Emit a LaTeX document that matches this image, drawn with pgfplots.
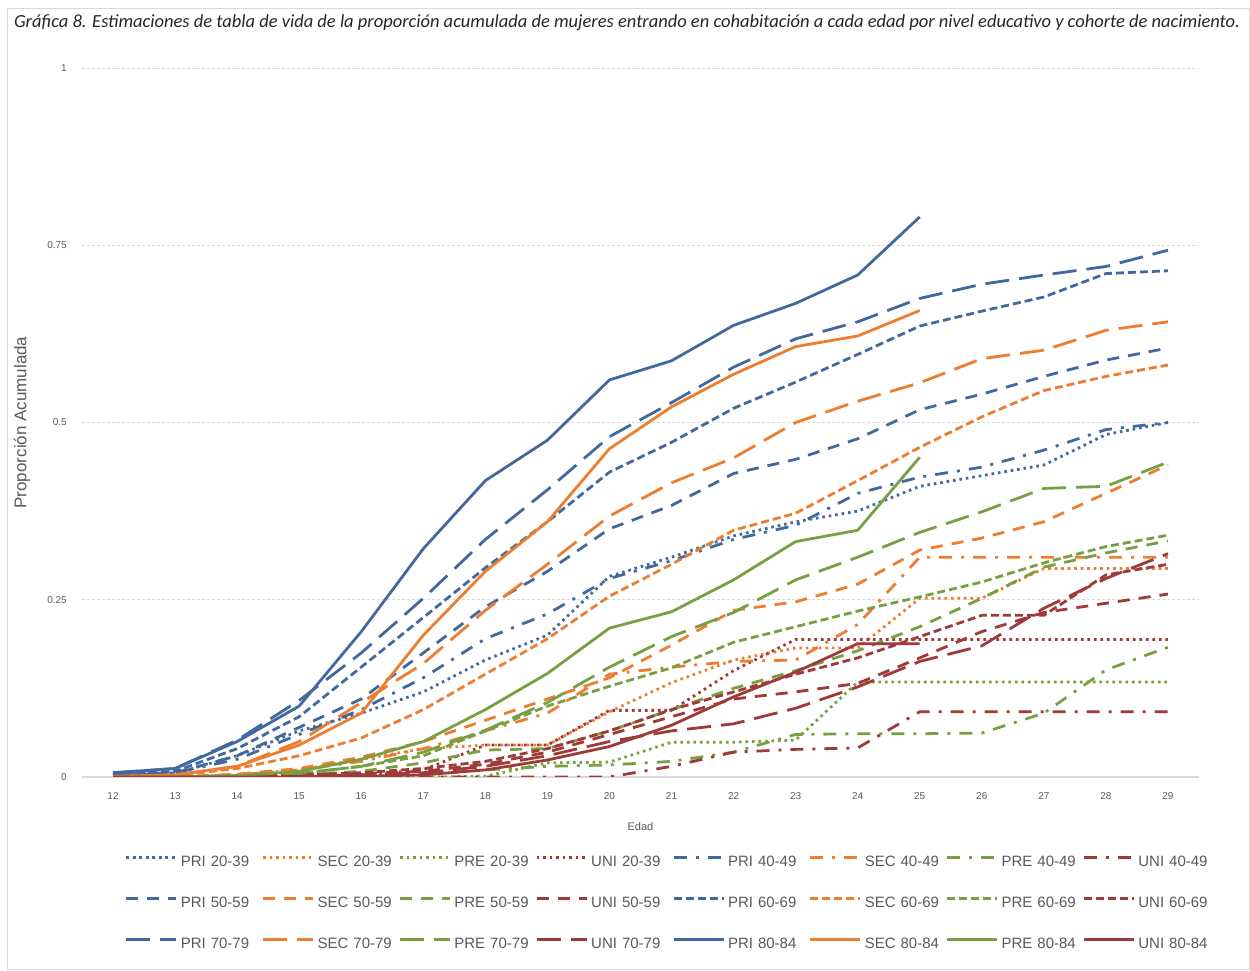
\documentclass[border=0pt]{standalone}
\usepackage{fontspec}
\setmainfont{Liberation Sans}
\newfontfamily\titlefont{Carlito}
\usepackage{pgfplots}
\pgfplotsset{compat=1.18}

\definecolor{pri}{HTML}{41699E}
\definecolor{sec}{HTML}{ED7D31}
\definecolor{pre}{HTML}{77A043}
\definecolor{uni}{HTML}{9E3A38}
\definecolor{txt}{HTML}{595959}
\definecolor{gridc}{HTML}{D9D9D9}

\tikzset{
  c2039/.style={dash pattern=on 2.6pt off 3.9pt},
  c4049/.style={dash pattern=on 13pt off 9pt on 3pt off 9pt},
  c5059/.style={dash pattern=on 12pt off 9pt},
  c6069/.style={dash pattern=on 8pt off 4pt},
  c7079/.style={dash pattern=on 24pt off 10pt},
  c8084/.style={solid},
}

\begin{document}
\begin{tikzpicture}
\path[use as bounding box] (0,0) rectangle (1250pt,971pt);
\draw[gridc, line width=0.8pt] (7pt,2pt) rectangle (1249pt,963pt);

\node[font=\titlefont\itshape\fontsize{18.5}{21}\selectfont, text=black!85, anchor=center]
  at (627pt,948pt) {Gráfica 8. Estimaciones de tabla de vida de la proporción acumulada de mujeres entrando en cohabitación a cada edad por nivel educativo y cohorte de nacimiento.};

\begin{axis}[
  at={(82pt,194pt)}, anchor=south west,
  width=1117pt, height=709pt, scale only axis,
  xmin=11.5, xmax=29.5, ymin=0, ymax=1,
  xtick={12,...,29},
  ytick={0,0.25,0.5,0.75,1},
  yticklabels={0,0.25,0.5,0.75,1},
  axis x line*=bottom, axis y line*=left,
  x axis line style={draw=gridc, line width=1.2pt, -},
  y axis line style={draw=none},
  major tick length=0pt,
  ymajorgrids=true,
  grid style={gridc, line width=0.8pt, dash pattern=on 3pt off 2pt},
  /pgf/number format/assume math mode=true,
  tick label style={font=\fontsize{10}{12}\selectfont, text=txt, inner sep=0pt},
  xticklabel shift=15pt,
  yticklabel shift=15pt,
  xlabel={Edad},
  xlabel style={font=\fontsize{11}{13}\selectfont, text=txt, at={(axis description cs:0.5,0)}, anchor=center, yshift=-50pt},
  ylabel={Proporción Acumulada},
  ylabel style={font=\fontsize{17}{20}\selectfont, text=txt, at={(axis description cs:0,0.5)}, anchor=center, yshift=60pt},
  every axis plot/.append style={line width=2.8pt, line join=round},
  legend columns=8,
  legend cell align=left,
  legend image code/.code={\draw[#1] (0pt,5pt) -- (50pt,5pt); \path (53pt,5pt);},
  legend style={at={(axis description cs:0.0385,-0.1106)}, anchor=north west,
    draw=none, fill=none, inner sep=0pt, outer sep=0pt,
    font=\fontsize{15}{18}\selectfont, text=txt,
    nodes={text width=81pt, inner sep=0pt, text height=11pt, text depth=3pt},
    row sep=27pt, column sep=0pt},
]

% 20-39
\addplot[pri, c2039] coordinates {(12,0.002)(13,0.005)(14,0.03)(15,0.065)(16,0.09)(17,0.12)(18,0.165)(19,0.2)(20,0.283)(21,0.31)(22,0.34)(23,0.36)(24,0.375)(25,0.41)(26,0.425)(27,0.44)(28,0.483)(29,0.5)};
\addlegendentry{PRI 20-39}
\addplot[sec, c2039] coordinates {(12,0)(13,0)(14,0.003)(15,0.01)(16,0.025)(17,0.04)(18,0.045)(19,0.045)(20,0.092)(21,0.133)(22,0.165)(23,0.182)(24,0.182)(25,0.252)(26,0.252)(27,0.294)(28,0.294)(29,0.294)};
\addlegendentry{SEC 20-39}
\addplot[pre, c2039] coordinates {(12,0)(13,0)(14,0)(15,0)(16,0)(17,0)(18,0.001)(19,0.02)(20,0.021)(21,0.049)(22,0.049)(23,0.052)(24,0.134)(25,0.134)(26,0.134)(27,0.134)(28,0.134)(29,0.134)};
\addlegendentry{PRE 20-39}
\addplot[uni, c2039] coordinates {(12,0)(13,0)(14,0)(15,0)(16,0.003)(17,0.01)(18,0.045)(19,0.045)(20,0.094)(21,0.094)(22,0.15)(23,0.194)(24,0.194)(25,0.194)(26,0.194)(27,0.194)(28,0.194)(29,0.194)};
\addlegendentry{UNI 20-39}

% 40-49
\addplot[pri, c4049] coordinates {(12,0.003)(13,0.006)(14,0.025)(15,0.06)(16,0.095)(17,0.14)(18,0.195)(19,0.23)(20,0.28)(21,0.305)(22,0.335)(23,0.355)(24,0.4)(25,0.423)(26,0.437)(27,0.461)(28,0.49)(29,0.5)};
\addlegendentry{PRI 40-49}
\addplot[sec, c4049] coordinates {(12,0)(13,0)(14,0.003)(15,0.01)(16,0.022)(17,0.04)(18,0.065)(19,0.09)(20,0.145)(21,0.155)(22,0.163)(23,0.165)(24,0.215)(25,0.31)(26,0.31)(27,0.31)(28,0.31)(29,0.31)};
\addlegendentry{SEC 40-49}
\addplot[pre, c4049] coordinates {(12,0)(13,0)(14,0)(15,0.001)(16,0.002)(17,0.004)(18,0.01)(19,0.015)(20,0.017)(21,0.022)(22,0.035)(23,0.06)(24,0.061)(25,0.061)(26,0.062)(27,0.09)(28,0.151)(29,0.183)};
\addlegendentry{PRE 40-49}
\addplot[uni, c4049] coordinates {(12,0)(13,0)(14,0)(15,0)(16,0)(17,0)(18,0)(19,0)(20,0)(21,0.015)(22,0.035)(23,0.039)(24,0.041)(25,0.092)(26,0.092)(27,0.092)(28,0.092)(29,0.092)};
\addlegendentry{UNI 40-49}

% 50-59
\addplot[pri, c5059] coordinates {(12,0.003)(13,0.006)(14,0.03)(15,0.07)(16,0.11)(17,0.175)(18,0.24)(19,0.29)(20,0.35)(21,0.383)(22,0.428)(23,0.448)(24,0.477)(25,0.518)(26,0.54)(27,0.565)(28,0.588)(29,0.605)};
\addlegendentry{PRI 50-59}
\addplot[sec, c5059] coordinates {(12,0)(13,0)(14,0.004)(15,0.012)(16,0.028)(17,0.05)(18,0.08)(19,0.11)(20,0.14)(21,0.186)(22,0.235)(23,0.247)(24,0.272)(25,0.32)(26,0.337)(27,0.36)(28,0.4)(29,0.44)};
\addlegendentry{SEC 50-59}
\addplot[pre, c5059] coordinates {(12,0)(13,0)(14,0.001)(15,0.003)(16,0.008)(17,0.02)(18,0.038)(19,0.04)(20,0.065)(21,0.095)(22,0.125)(23,0.15)(24,0.178)(25,0.212)(26,0.252)(27,0.296)(28,0.316)(29,0.333)};
\addlegendentry{PRE 50-59}
\addplot[uni, c5059] coordinates {(12,0)(13,0)(14,0)(15,0.002)(16,0.005)(17,0.008)(18,0.018)(19,0.035)(20,0.06)(21,0.085)(22,0.11)(23,0.12)(24,0.132)(25,0.168)(26,0.205)(27,0.232)(28,0.245)(29,0.258)};
\addlegendentry{UNI 50-59}

% 60-69
\addplot[pri, c6069] coordinates {(12,0.004)(13,0.008)(14,0.04)(15,0.085)(16,0.155)(17,0.225)(18,0.295)(19,0.36)(20,0.43)(21,0.472)(22,0.52)(23,0.557)(24,0.596)(25,0.636)(26,0.657)(27,0.677)(28,0.71)(29,0.714)};
\addlegendentry{PRI 60-69}
\addplot[sec, c6069] coordinates {(12,0)(13,0.002)(14,0.012)(15,0.03)(16,0.055)(17,0.095)(18,0.145)(19,0.195)(20,0.255)(21,0.3)(22,0.348)(23,0.372)(24,0.418)(25,0.465)(26,0.508)(27,0.545)(28,0.565)(29,0.581)};
\addlegendentry{SEC 60-69}
\addplot[pre, c6069] coordinates {(12,0)(13,0)(14,0.002)(15,0.005)(16,0.015)(17,0.03)(18,0.065)(19,0.1)(20,0.128)(21,0.154)(22,0.19)(23,0.212)(24,0.234)(25,0.254)(26,0.275)(27,0.302)(28,0.325)(29,0.341)};
\addlegendentry{PRE 60-69}
\addplot[uni, c6069] coordinates {(12,0)(13,0)(14,0.001)(15,0.003)(16,0.006)(17,0.012)(18,0.022)(19,0.04)(20,0.065)(21,0.095)(22,0.12)(23,0.145)(24,0.168)(25,0.198)(26,0.228)(27,0.228)(28,0.285)(29,0.3)};
\addlegendentry{UNI 60-69}

% 70-79
\addplot[pri, c7079] coordinates {(12,0.006)(13,0.012)(14,0.052)(15,0.108)(16,0.175)(17,0.252)(18,0.335)(19,0.405)(20,0.48)(21,0.528)(22,0.578)(23,0.618)(24,0.642)(25,0.675)(26,0.695)(27,0.708)(28,0.72)(29,0.743)};
\addlegendentry{PRI 70-79}
\addplot[sec, c7079] coordinates {(12,0)(13,0.003)(14,0.015)(15,0.05)(16,0.105)(17,0.16)(18,0.235)(19,0.3)(20,0.368)(21,0.415)(22,0.45)(23,0.5)(24,0.53)(25,0.556)(26,0.59)(27,0.602)(28,0.63)(29,0.642)};
\addlegendentry{SEC 70-79}
\addplot[pre, c7079] coordinates {(12,0)(13,0)(14,0.001)(15,0.005)(16,0.015)(17,0.035)(18,0.066)(19,0.105)(20,0.155)(21,0.198)(22,0.232)(23,0.278)(24,0.31)(25,0.345)(26,0.374)(27,0.407)(28,0.41)(29,0.444)};
\addlegendentry{PRE 70-79}
\addplot[uni, c7079] coordinates {(12,0)(13,0)(14,0)(15,0.001)(16,0.003)(17,0.006)(18,0.015)(19,0.03)(20,0.05)(21,0.065)(22,0.075)(23,0.097)(24,0.127)(25,0.163)(26,0.185)(27,0.238)(28,0.28)(29,0.315)};
\addlegendentry{UNI 70-79}

% 80-84
\addplot[pri, c8084] coordinates {(12,0.006)(13,0.012)(14,0.05)(15,0.1)(16,0.205)(17,0.322)(18,0.418)(19,0.475)(20,0.56)(21,0.587)(22,0.637)(23,0.668)(24,0.708)(25,0.79)};
\addlegendentry{PRI 80-84}
\addplot[sec, c8084] coordinates {(12,0.001)(13,0.003)(14,0.015)(15,0.045)(16,0.09)(17,0.2)(18,0.29)(19,0.36)(20,0.463)(21,0.522)(22,0.568)(23,0.607)(24,0.622)(25,0.658)};
\addlegendentry{SEC 80-84}
\addplot[pre, c8084] coordinates {(12,0)(13,0)(14,0.002)(15,0.008)(16,0.025)(17,0.05)(18,0.095)(19,0.146)(20,0.21)(21,0.233)(22,0.278)(23,0.332)(24,0.348)(25,0.451)};
\addlegendentry{PRE 80-84}
\addplot[uni, c8084] coordinates {(12,0)(13,0)(14,0)(15,0)(16,0.001)(17,0.003)(18,0.01)(19,0.024)(20,0.043)(21,0.073)(22,0.113)(23,0.148)(24,0.188)(25,0.188)};
\addlegendentry{UNI 80-84}

\end{axis}
\end{tikzpicture}
\end{document}
